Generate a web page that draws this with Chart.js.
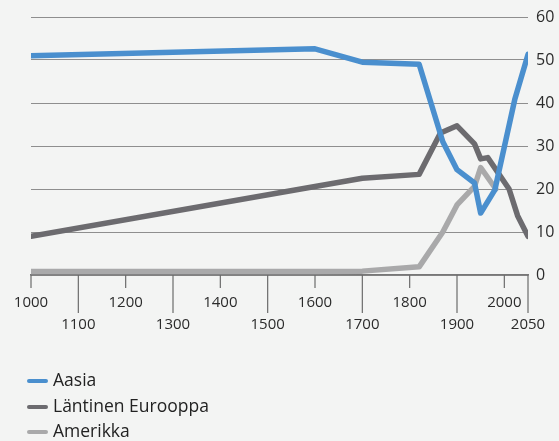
<!DOCTYPE html>
<html>
<head>
<meta charset="utf-8">
<script src="https://cdn.jsdelivr.net/npm/chart.js@4.4.1/dist/chart.umd.min.js"></script>
<style>
	body { margin: 0; background: #f3f4f3; }
	#wrap { position: relative; width: 559px; height: 441px; }
	#legend { position: absolute; left: 27px; top: 367px; font-family: "Open Sans", sans-serif; font-size: 17.5px; color: #222; }
	#legend div { height: 25.5px; line-height: 25px; white-space: nowrap; }
	#legend span.sw { display: inline-block; width: 21px; height: 4px; border-radius: 2px; margin-right: 5px; vertical-align: middle; }
</style>
</head>
<body>
<div id="wrap">
	<canvas id="mycanvas" width="559" height="441"></canvas>
	<div id="legend"></div>
</div>
<script>
var xTicks = [1000, 1100, 1200, 1300, 1400, 1500, 1600, 1700, 1800, 1900, 2000, 2050];

var aasiaYears = [1000, 1600, 1700, 1820, 1870, 1900, 1937, 1950, 1980, 2022, 2050];
var aasia      = [51.0, 52.6, 49.5, 49.0, 31.0, 24.5, 21.4, 14.4, 19.8, 40.8, 51.3];

var eurooppaYears = [1000, 1600, 1700, 1820, 1865, 1900, 1937, 1950, 1965, 2010, 2028, 2050];
var eurooppa      = [9.0, 20.6, 22.5, 23.4, 33.0, 34.7, 30.5, 27.0, 27.3, 20.0, 13.8, 9.0];

var amerikkaYears = [1000, 1600, 1700, 1820, 1870, 1900, 1937, 1950, 1982];
var amerikka      = [0.8, 0.8, 0.9, 1.9, 10.0, 16.3, 20.6, 25.0, 20.0];

function pts(xs, ys) {
	var out = [];
	for (var i in xs) {
		out.push({x: xs[i], y: ys[i]});
	}
	return out;
}

var lineStyle = {
	fill: false,
	tension: 0,
	borderWidth: 5.5,
	borderCapStyle: 'round',
	borderJoinStyle: 'round',
	pointRadius: 0,
	pointHoverRadius: 0
};

var chartdata = {
	datasets: [
		Object.assign({label: "Aasia", borderColor: "#4a8fce", backgroundColor: "#4a8fce", data: pts(aasiaYears, aasia)}, lineStyle),
		Object.assign({label: "Läntinen Eurooppa", borderColor: "#6c6b6f", backgroundColor: "#6c6b6f", data: pts(eurooppaYears, eurooppa)}, lineStyle),
		Object.assign({label: "Amerikka", borderColor: "#a9a9aa", backgroundColor: "#a9a9aa", data: pts(amerikkaYears, amerikka)}, lineStyle)
	]
};

// long and short tick marks under the x axis
var tickMarks = {
	id: 'tickMarks',
	afterDraw: function(chart) {
		var ctx = chart.ctx;
		var xs = chart.scales.x;
		var y0 = chart.chartArea.bottom;
		ctx.save();
		ctx.strokeStyle = "#6b6b6b";
		ctx.lineWidth = 1.2;
		for (var i = 0; i < xTicks.length; i++) {
			var px = xs.getPixelForValue(xTicks[i]);
			ctx.beginPath();
			ctx.moveTo(px, y0);
			ctx.lineTo(px, y0 + (i % 2 ? 38 : 13));
			ctx.stroke();
		}
		ctx.restore();
	}
};

var ctx = document.getElementById("mycanvas");

var LineGraph = new Chart(ctx, {
	type: 'line',
	data: chartdata,
	plugins: [tickMarks],
	options: {
		responsive: false,
		animation: false,
		layout: { padding: { left: 31, top: 17, right: 0, bottom: 0 } },
		plugins: {
			legend: { display: false },
			tooltip: { enabled: false }
		},
		scales: {
			x: {
				type: 'linear',
				min: 1000,
				max: 2050,
				afterBuildTicks: function(scale) {
					scale.ticks = xTicks.map(function(v) { return {value: v}; });
				},
				afterFit: function(scale) {
					scale.height = 166;
					scale.paddingLeft = 0;
					scale.paddingRight = 0;
				},
				grid: { display: false, drawTicks: false },
				border: { display: true, color: "#777", width: 1.5 },
				ticks: {
					padding: 17,
					maxRotation: 0,
					autoSkip: false,
					color: "#2b2b2b",
					font: { family: "Open Sans", size: 15, lineHeight: 1.47 },
					callback: function(value, index) {
						return index % 2 ? ['', String(value)] : String(value);
					}
				}
			},
			y: {
				position: 'right',
				min: 0,
				max: 60,
				afterFit: function(scale) {
					scale.width = 31;
					scale.paddingTop = 0;
					scale.paddingBottom = 0;
				},
				grid: { color: "#8e8e8e", lineWidth: 1, drawTicks: false },
				border: { display: false },
				ticks: {
					stepSize: 10,
					padding: 8,
					color: "#2b2b2b",
					font: { family: "Open Sans", size: 16 }
				}
			}
		}
	}
});

// legend as a column, built from the datasets
var legend = document.getElementById("legend");
chartdata.datasets.forEach(function(ds) {
	var row = document.createElement("div");
	var sw = document.createElement("span");
	sw.className = "sw";
	sw.style.background = ds.borderColor;
	row.appendChild(sw);
	row.appendChild(document.createTextNode(ds.label));
	legend.appendChild(row);
});
</script>
</body>
</html>
